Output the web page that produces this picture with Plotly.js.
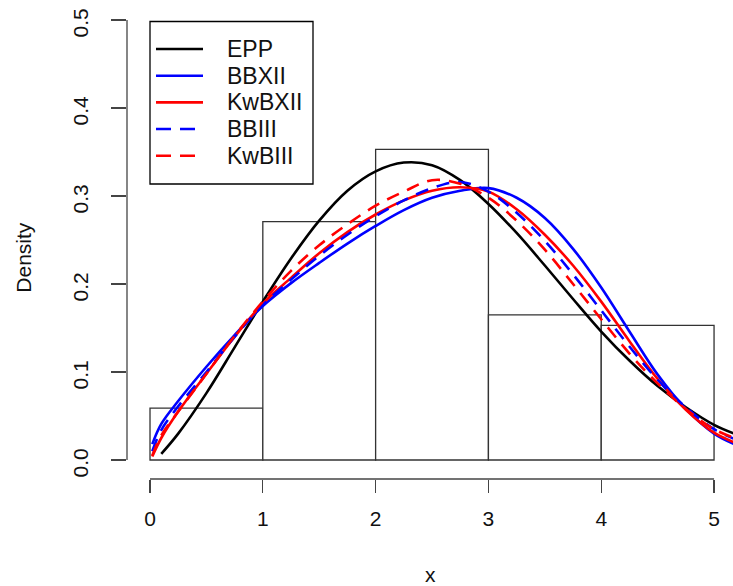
<!DOCTYPE html>
<html>
<head>
<meta charset="utf-8">
<script src="https://cdn.plot.ly/plotly-3.0.1.min.js"></script>
<style>html,body{margin:0;padding:0;background:#fff;}#chart{width:733px;height:586px;}</style>
</head>
<body>
<div id="chart"></div>
<script>
// Histogram (density scale)
const binCenters = [0.5, 1.5, 2.5, 3.5, 4.5];
const binDensity = [0.059, 0.271, 0.353, 0.165, 0.153];

// Fitted density curves
const xEPP  = [0.1, 0.25, 0.5, 0.75, 1.0, 1.25, 1.5, 1.75, 2.0, 2.25, 2.5, 2.75, 3.0, 3.25, 3.5, 3.75, 4.0, 4.25, 4.5, 4.75, 5.0, 5.2];
const yEPP  = [0.007, 0.030, 0.076, 0.128, 0.180, 0.229, 0.272, 0.306, 0.328, 0.338, 0.335, 0.318, 0.291, 0.258, 0.221, 0.183, 0.146, 0.113, 0.084, 0.060, 0.040, 0.029];

const xFit = [0.02, 0.1, 0.25, 0.5, 0.75, 1.0, 1.25, 1.5, 1.75, 2.0, 2.25, 2.5, 2.75, 3.0, 3.25, 3.5, 3.75, 4.0, 4.25, 4.5, 4.75, 5.0, 5.2];
const yBBXII  = [0.018, 0.041, 0.067, 0.106, 0.142, 0.175, 0.201, 0.224, 0.246, 0.266, 0.284, 0.298, 0.306, 0.309, 0.298, 0.275, 0.240, 0.196, 0.146, 0.097, 0.058, 0.030, 0.017];
const yKwBXII = [0.004, 0.025, 0.055, 0.098, 0.140, 0.178, 0.207, 0.235, 0.259, 0.279, 0.295, 0.306, 0.310, 0.305, 0.285, 0.256, 0.221, 0.180, 0.135, 0.092, 0.057, 0.031, 0.019];
const yBBIII  = [0.010, 0.034, 0.061, 0.100, 0.140, 0.176, 0.205, 0.232, 0.256, 0.277, 0.295, 0.309, 0.316, 0.305, 0.281, 0.249, 0.211, 0.170, 0.129, 0.091, 0.060, 0.035, 0.023];
const yKwBIII = [0.005, 0.028, 0.055, 0.098, 0.141, 0.180, 0.215, 0.244, 0.268, 0.289, 0.305, 0.318, 0.314, 0.298, 0.272, 0.239, 0.200, 0.160, 0.121, 0.087, 0.058, 0.035, 0.024];

const seriesNames = ['EPP', 'BBXII', 'KwBXII', 'BBIII', 'KwBIII'];
const seriesColors = ['#000000', '#0000FF', '#FF0000', '#0000FF', '#FF0000'];
const seriesDashed = [false, false, false, true, true];

const xTicks = [0, 1, 2, 3, 4, 5];
const xTickText = ['0', '1', '2', '3', '4', '5'];
const yTicks = [0, 0.1, 0.2, 0.3, 0.4, 0.5];
const yTickText = ['0.0', '0.1', '0.2', '0.3', '0.4', '0.5'];

const FONT = 'Liberation Sans, Arial, Helvetica, sans-serif';
const DASH = '13px,9px';
const LW = 2.6;

const seriesX = [xEPP, xFit, xFit, xFit, xFit];
const seriesY = [yEPP, yBBXII, yKwBXII, yBBIII, yKwBIII];

const traces = [
  {type:'bar', x: binCenters, y: binDensity, width: 1, showlegend:false, hoverinfo:'skip',
   marker:{color:'rgba(255,255,255,1)', line:{color:'#333', width:1.3}}}
];
seriesNames.forEach((n, i) => {
  traces.push({type:'scatter', mode:'lines', name:n, x: seriesX[i], y: seriesY[i], showlegend:false,
    line:{color: seriesColors[i], width: LW, shape:'spline', smoothing:1, dash: seriesDashed[i] ? DASH : 'solid'}});
});

// Custom R-style legend (box, line samples, labels) in paper coordinates
const L = 127, T = 2, PW = 606, PH = 477;
const px2x = p => (p - L) / PW;
const py2y = p => 1 - (p - T) / PH;
const rowY = [49, 75.7, 102.4, 129, 155.7];

const shapes = [
  {type:'line', xref:'paper', yref:'y', x0:0, x1:0, y0:0, y1:0.5, line:{color:'#444', width:1.3}},
  {type:'line', xref:'x', yref:'paper', x0:0, x1:5, y0:0, y1:0, line:{color:'#444', width:1.3}},
  {type:'rect', xref:'paper', yref:'paper', x0:px2x(150), x1:px2x(313), y0:py2y(184), y1:py2y(21.5),
   fillcolor:'#fff', line:{color:'#000', width:1.3}}
];
const annotations = [
  {text:'x', xref:'paper', yref:'paper', x:0.5, y:-0.201, xanchor:'center', yanchor:'middle', showarrow:false,
   font:{family:FONT, size:21, color:'#111'}},
  {text:'Density', xref:'paper', yref:'paper', x:-0.170, y:0.466, xanchor:'center', yanchor:'middle', textangle:-90, showarrow:false,
   font:{family:FONT, size:21, color:'#111'}}
];
seriesNames.forEach((n, i) => {
  shapes.push({type:'line', xref:'paper', yref:'paper', x0:px2x(156), x1:px2x(seriesDashed[i] ? 195 : 203),
    y0:py2y(rowY[i]), y1:py2y(rowY[i]), line:{color: seriesColors[i], width: LW, dash: seriesDashed[i] ? '15px,9px' : 'solid'}});
  annotations.push({text:n, xref:'paper', yref:'paper', x:px2x(225), y:py2y(rowY[i]), xanchor:'left', yanchor:'middle',
    showarrow:false, font:{family:FONT, size:23, color:'#111'}});
});

const layout = {
  width: 733, height: 586,
  margin: {l:L, r:0, t:T, b:107, pad:0},
  paper_bgcolor:'#fff', plot_bgcolor:'#fff',
  font: {family: FONT, size: 21, color:'#000'},
  bargap: 0,
  showlegend: false,
  xaxis: {range:[-0.204, 5.168], tickmode:'array', tickvals: xTicks, ticktext: xTickText,
          ticks:'outside', ticklen:13, tickwidth:1.3, tickcolor:'#444',
          showline:false, showgrid:false, zeroline:false, ticklabelstandoff: 8,
          tickfont:{family:FONT, size:21, color:'#111'}},
  yaxis: {range:[-0.0216, 0.5205], tickmode:'array', tickvals: yTicks, ticktext: yTickText,
          ticks:'outside', ticklen:15, tickwidth:1.3, tickcolor:'#444', tickangle:-90,
          showline:false, showgrid:false, zeroline:false, ticklabelstandoff: 15, ticklabelshift: 6,
          tickfont:{family:FONT, size:21, color:'#111'}},
  shapes: shapes,
  annotations: annotations
};

Plotly.newPlot('chart', traces, layout, {staticPlot:true, displayModeBar:false});
</script>
</body>
</html>
